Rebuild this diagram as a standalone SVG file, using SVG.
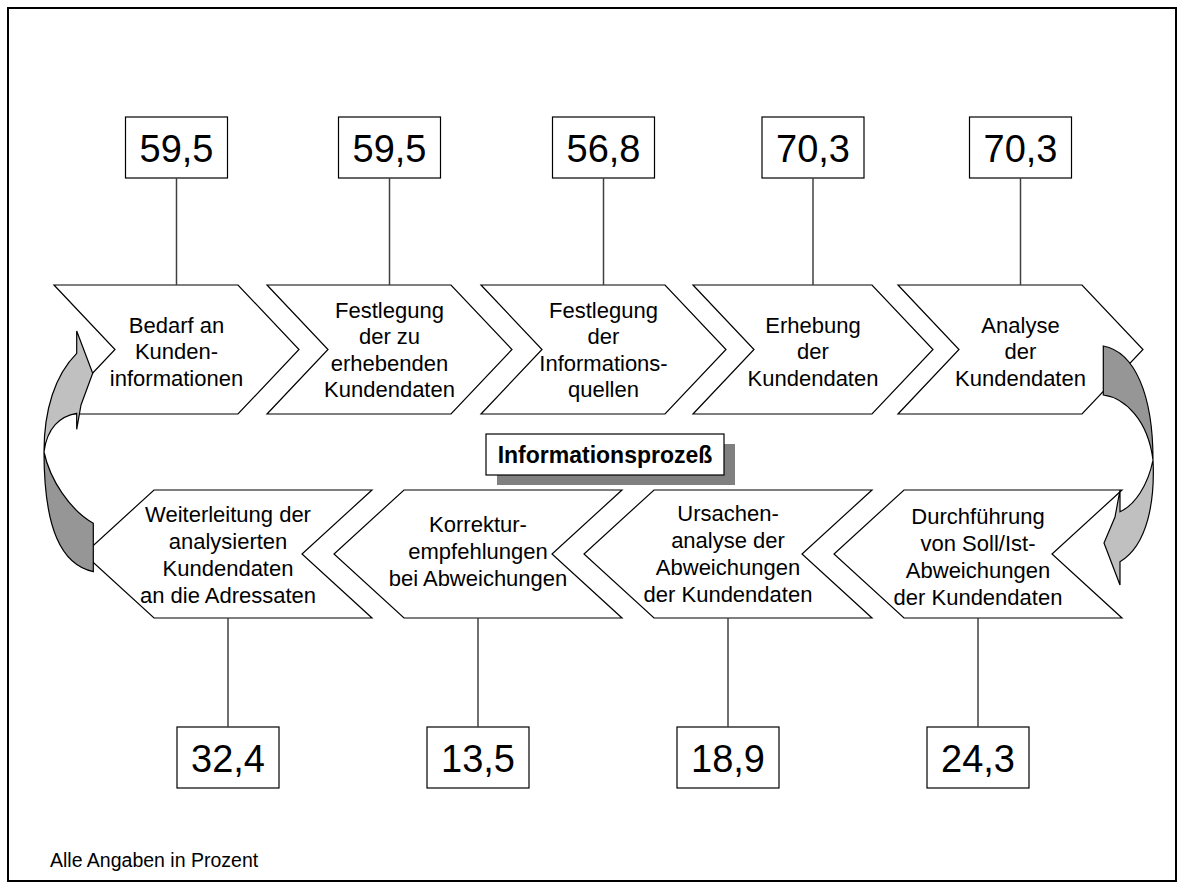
<svg xmlns="http://www.w3.org/2000/svg" width="1184" height="889" viewBox="0 0 1184 889">
<style>
.chev{fill:#ffffff;stroke:#000000;stroke-width:1.2;stroke-linejoin:miter}
.box{fill:#ffffff;stroke:#000000;stroke-width:1.2}
.t{font-family:"Liberation Sans",Arial,sans-serif;font-size:22px;fill:#000000;text-anchor:middle}
.num{font-family:"Liberation Sans",Arial,sans-serif;font-size:38px;fill:#000000;text-anchor:middle}
.lbl{font-family:"Liberation Sans",Arial,sans-serif;font-size:23px;font-weight:bold;fill:#000000;text-anchor:middle}
.foot{font-family:"Liberation Sans",Arial,sans-serif;font-size:19.5px;fill:#000000}
.ln{stroke:#404040;stroke-width:1.5;fill:none}
.light{fill:#c0c0c0;stroke:#000000;stroke-width:1.2;stroke-linejoin:miter}
.dark{fill:#969696;stroke:#000000;stroke-width:1.2}
</style>
<rect x="0" y="0" width="1184" height="889" fill="#ffffff"/>
<rect id="frame" x="8" y="8" width="1168" height="873" fill="none" stroke="#000000" stroke-width="2"/>

<!-- top process steps -->
<g id="step1">
<polygon class="chev" points="54,285 238,285 299,349.5 238,414 54,414 115,349.5"/>
<text class="t" x="176.5"><tspan x="176.5" y="332.5">Bedarf an</tspan><tspan x="176.5" y="359">Kunden-</tspan><tspan x="176.5" y="385.5">informationen</tspan></text>
</g>
<g id="step2">
<polygon class="chev" points="267,285 451,285 512,349.5 451,414 267,414 328,349.5"/>
<text class="t"><tspan x="389.5" y="317.5">Festlegung</tspan><tspan x="389.5" y="344">der zu</tspan><tspan x="389.5" y="370.5">erhebenden</tspan><tspan x="389.5" y="397">Kundendaten</tspan></text>
</g>
<g id="step3">
<polygon class="chev" points="481,285 665,285 726,349.5 665,414 481,414 542,349.5"/>
<text class="t"><tspan x="603.5" y="317.5">Festlegung</tspan><tspan x="603.5" y="344">der</tspan><tspan x="603.5" y="370.5">Informations-</tspan><tspan x="603.5" y="397">quellen</tspan></text>
</g>
<g id="step4">
<polygon class="chev" points="693,285 872,285 933,349.5 872,414 693,414 754,349.5"/>
<text class="t"><tspan x="813" y="332.5">Erhebung</tspan><tspan x="813" y="359">der</tspan><tspan x="813" y="385.5">Kundendaten</tspan></text>
</g>
<g id="step5">
<polygon class="chev" points="898,285 1082,285 1143,349.5 1082,414 898,414 959,349.5"/>
<text class="t"><tspan x="1020.5" y="332.5">Analyse</tspan><tspan x="1020.5" y="359">der</tspan><tspan x="1020.5" y="385.5">Kundendaten</tspan></text>
</g>

<!-- bottom process steps -->
<g id="step6">
<polygon class="chev" points="904,490 1122,490 1052,554 1122,618 904,618 834,554"/>
<text class="t"><tspan x="978" y="524">Durchführung</tspan><tspan x="978" y="551">von Soll/Ist-</tspan><tspan x="978" y="578">Abweichungen</tspan><tspan x="978" y="605">der Kundendaten</tspan></text>
</g>
<g id="step7">
<polygon class="chev" points="654,490 872,490 802,554 872,618 654,618 584,554"/>
<text class="t"><tspan x="728" y="521">Ursachen-</tspan><tspan x="728" y="548">analyse der</tspan><tspan x="728" y="575">Abweichungen</tspan><tspan x="728" y="602">der Kundendaten</tspan></text>
</g>
<g id="step8">
<polygon class="chev" points="404,490 622,490 552,554 622,618 404,618 334,554"/>
<text class="t"><tspan x="478" y="532">Korrektur-</tspan><tspan x="478" y="559">empfehlungen</tspan><tspan x="478" y="586">bei Abweichungen</tspan></text>
</g>
<g id="step9">
<polygon class="chev" points="154,490 372,490 302,554 372,618 154,618 84,554"/>
<text class="t"><tspan x="228" y="522">Weiterleitung der</tspan><tspan x="228" y="549">analysierten</tspan><tspan x="228" y="576">Kundendaten</tspan><tspan x="228" y="603">an die Adressaten</tspan></text>
</g>

<!-- central label -->
<g id="label">
<rect x="497" y="444" width="238" height="41" fill="#808080"/>
<rect class="box" x="486" y="434" width="238" height="41"/>
<text class="lbl" x="605" y="462.5">Informationsprozeß</text>
</g>

<!-- value boxes top -->
<g id="val1"><rect class="box" x="125.5" y="117" width="102" height="61"/><text class="num" x="176.5" y="162">59,5</text></g>
<g id="val2"><rect class="box" x="338.5" y="117" width="102" height="61"/><text class="num" x="389.5" y="162">59,5</text></g>
<g id="val3"><rect class="box" x="552.5" y="117" width="102" height="61"/><text class="num" x="603.5" y="162">56,8</text></g>
<g id="val4"><rect class="box" x="762" y="117" width="102" height="61"/><text class="num" x="813" y="162">70,3</text></g>
<g id="val5"><rect class="box" x="969.5" y="117" width="102" height="61"/><text class="num" x="1020.5" y="162">70,3</text></g>

<!-- value boxes bottom -->
<g id="val6"><rect class="box" x="927" y="727" width="102" height="61"/><text class="num" x="978" y="772">24,3</text></g>
<g id="val7"><rect class="box" x="677" y="727" width="102" height="61"/><text class="num" x="728" y="772">18,9</text></g>
<g id="val8"><rect class="box" x="427" y="727" width="102" height="61"/><text class="num" x="478" y="772">13,5</text></g>
<g id="val9"><rect class="box" x="177" y="727" width="102" height="61"/><text class="num" x="228" y="772">32,4</text></g>

<!-- connectors -->
<g id="connectors">
<line class="ln" x1="176.5" y1="178" x2="176.5" y2="285"/>
<line class="ln" x1="389.5" y1="178" x2="389.5" y2="285"/>
<line class="ln" x1="603.5" y1="178" x2="603.5" y2="285"/>
<line class="ln" x1="813" y1="178" x2="813" y2="285"/>
<line class="ln" x1="1020.5" y1="178" x2="1020.5" y2="285"/>
<line class="ln" x1="978" y1="618" x2="978" y2="727"/>
<line class="ln" x1="728" y1="618" x2="728" y2="727"/>
<line class="ln" x1="478" y1="618" x2="478" y2="727"/>
<line class="ln" x1="228" y1="618" x2="228" y2="727"/>
<!-- right curved arrow: from step5 down to step6 -->
<path class="dark" d="M1103.3,346 C1135,352 1153,395 1153,460 C1148,420 1125,398 1103.3,395 Z"/>
<path class="light" d="M1153,460 C1155,500 1148,545 1120,561.7 L1120,585 L1104,543 L1115,517 L1120,490 L1120,511.7 C1135,505 1148,485 1153,460 Z"/>
<!-- left curved arrow: from step9 up to step1 -->
<path class="dark" d="M44,452 C50,480 70,510 93.3,523.3 L93.3,571.7 C62,565 44,530 44,452 Z"/>
<path class="light" d="M44,452 C44,410 55,375 76.7,353.3 L76.7,331 L92.7,373.3 L81,405 L76.7,429.3 L76.7,413.3 C60,416 47,428 44,452 Z"/>
</g>

<text id="footnote" class="foot" x="50" y="867">Alle Angaben in Prozent</text>
</svg>
